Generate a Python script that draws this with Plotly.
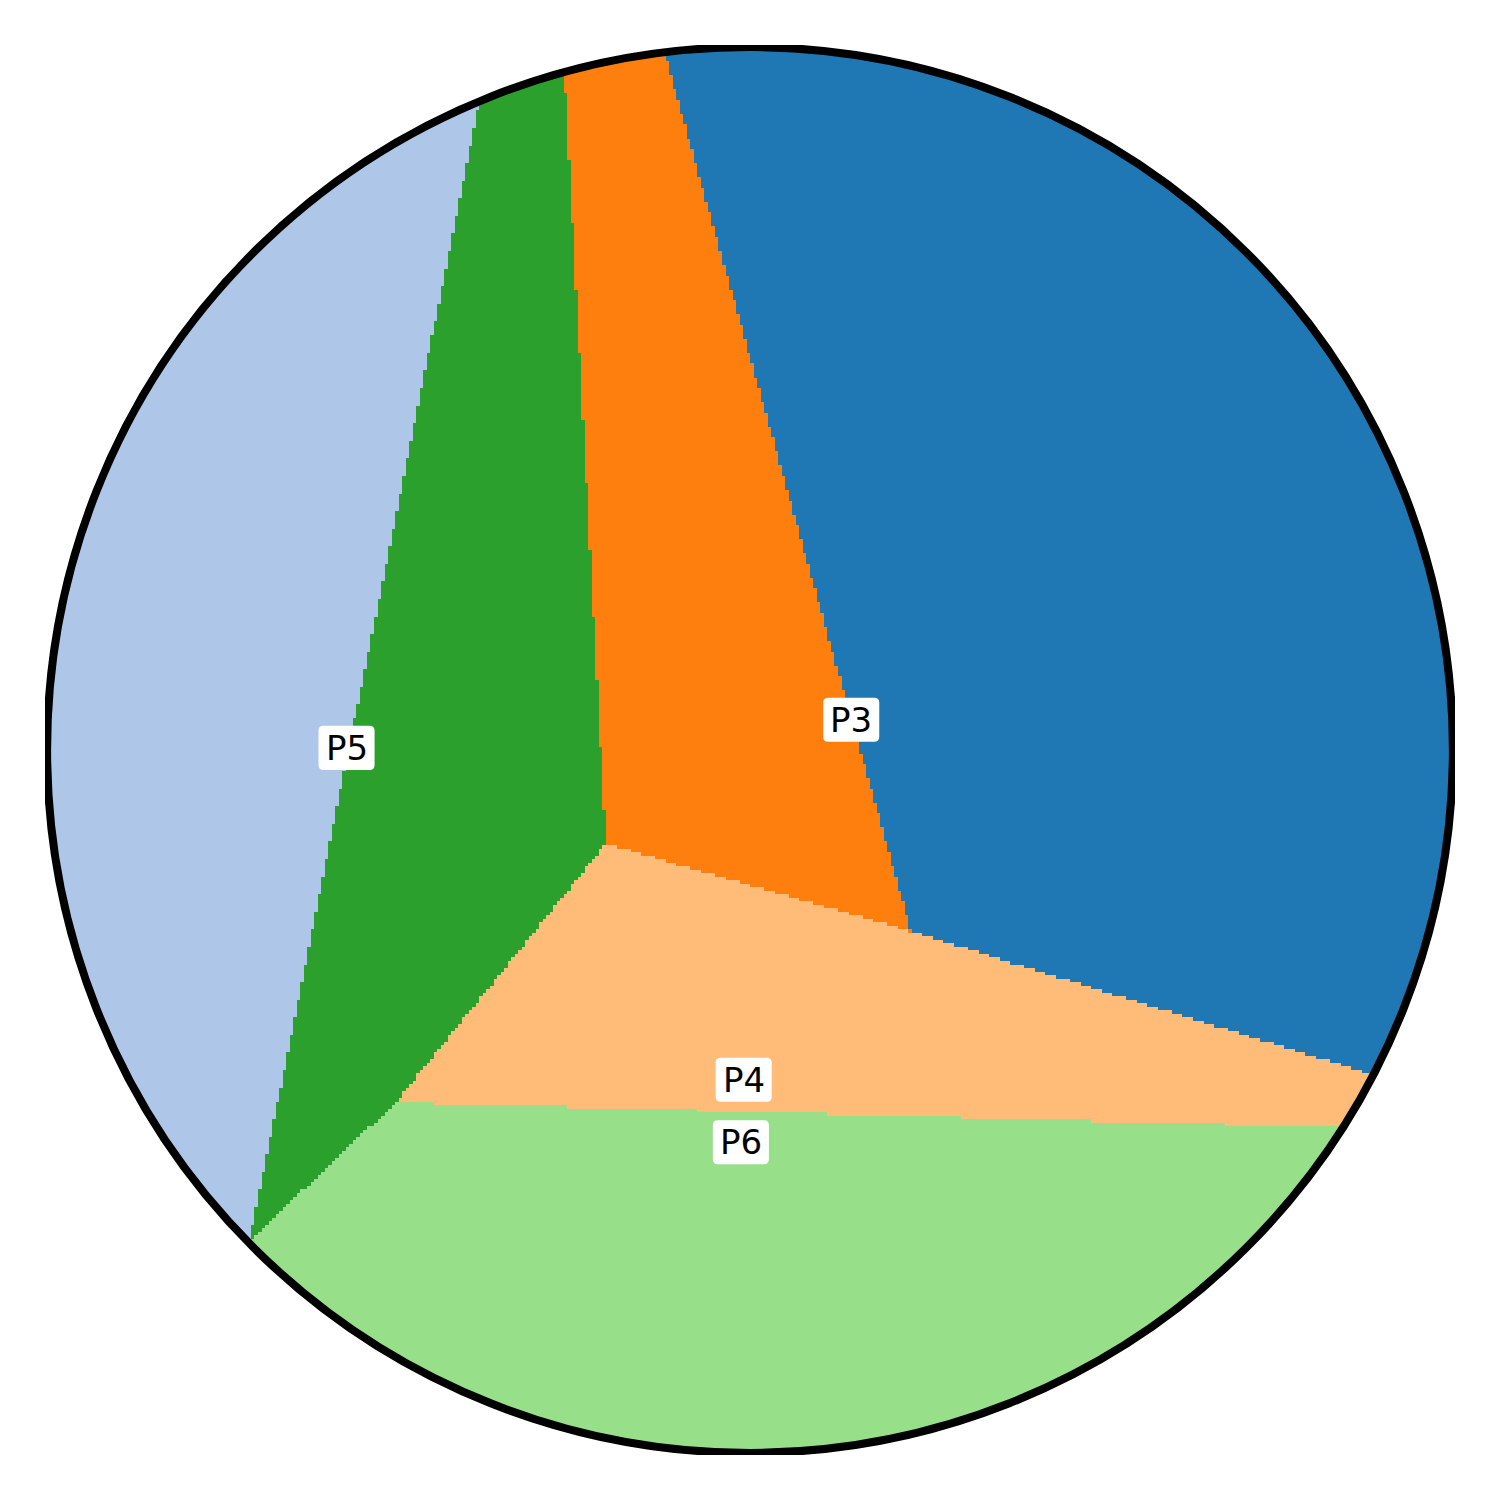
import numpy as np
import plotly.graph_objects as go

# ---- data -------------------------------------------------------------
# region names and colours (tab20 palette)
region_names = ["P1", "P5", "P3", "P4", "P2", "P6"]
region_colors = ["#1f77b4", "#aec7e8", "#ff7f0e", "#ffbb78", "#2ca02c", "#98df8a"]

# key points of the partition (unit disk coordinates)
pt_names = ["A", "B", "C", "D", "T1", "T2", "T3", "E1", "E2"]
pt_x = [-0.205, 0.229, -0.504, -0.712, -0.121, -0.264, -0.385, 0.880, 0.841]
pt_y = [-0.133, -0.258, -0.501, -0.698, 0.990, 0.963, 0.922, -0.460, -0.537]

# boundary edges of each region (background region "P5" fills the rest)
edges_P1 = [("B", "T1"), ("B", "E1")]
edges_P3 = [("A", "T2"), ("A", "B"), ("B", "T1")]
edges_P2 = [("D", "T3"), ("C", "D"), ("A", "C"), ("A", "T2")]
edges_P4 = [("A", "B"), ("B", "E1"), ("C", "E2"), ("A", "C")]
edges_P6 = [("C", "D"), ("C", "E2")]

# text labels
label_text = ["P3", "P5", "P4", "P6"]
label_x = [0.144, -0.574, -0.009, -0.013]
label_y = [0.043, 0.003, -0.469, -0.558]

# ---- build grid ------------------------------------------------------
P = {n: np.array([x, y]) for n, x, y in zip(pt_names, pt_x, pt_y)}
N = 400
h = 2.0 / N
xc = np.linspace(-1 + h / 2, 1 - h / 2, N)
yc = np.linspace(-1 + h / 2, 1 - h / 2, N)
X, Y = np.meshgrid(xc, yc)

z = np.full(X.shape, float(region_names.index("P5")))
for name, edges in [("P1", edges_P1), ("P3", edges_P3), ("P2", edges_P2),
                    ("P4", edges_P4), ("P6", edges_P6)]:
    used = sorted({p for e in edges for p in e})
    seed = np.mean([P[u] for u in used], axis=0)
    m = np.ones(X.shape, bool)
    for a, b in edges:
        pa, pb = P[a], P[b]
        d = pb - pa
        s_seed = d[0] * (seed[1] - pa[1]) - d[1] * (seed[0] - pa[0])
        s = d[0] * (Y - pa[1]) - d[1] * (X - pa[0])
        m &= s * np.sign(s_seed) >= 0
    z[m] = region_names.index(name)
z[X ** 2 + Y ** 2 > 1.0] = np.nan

n = len(region_colors)
cs = []
for i, c in enumerate(region_colors):
    cs.append([i / n, c])
    cs.append([(i + 1) / n, c])

fig = go.Figure(go.Heatmap(
    x=xc, y=yc, z=z, colorscale=cs, zmin=-0.5, zmax=n - 0.5,
    zsmooth=False, showscale=False, hoverinfo="skip"))

# white mask outside the disk
th = np.linspace(0, 2 * np.pi, 361)
circ = " ".join(("M" if i == 0 else "L") + f"{np.cos(t):.5f},{np.sin(t):.5f}"
                for i, t in enumerate(th)) + " Z"
mask_path = "M-2,-2 L2,-2 L2,2 L-2,2 Z " + circ
fig.add_shape(type="path", path=mask_path, xref="x", yref="y",
              fillcolor="white", line=dict(width=0), fillrule="evenodd")
fig.add_shape(type="circle", x0=-1, y0=-1, x1=1, y1=1, xref="x", yref="y",
              line=dict(color="black", width=8))

# rounded white boxes behind labels
px_unit = 1.0 / 702.0
bw, bh, rr = 56 * px_unit / 2, 44 * px_unit / 2, 5 * px_unit
for x, y in zip(label_x, label_y):
    x0, x1, y0, y1 = x - bw, x + bw, y - bh, y + bh
    path = (f"M{x0 + rr},{y0} L{x1 - rr},{y0} Q{x1},{y0} {x1},{y0 + rr} "
            f"L{x1},{y1 - rr} Q{x1},{y1} {x1 - rr},{y1} "
            f"L{x0 + rr},{y1} Q{x0},{y1} {x0},{y1 - rr} "
            f"L{x0},{y0 + rr} Q{x0},{y0} {x0 + rr},{y0} Z")
    fig.add_shape(type="path", path=path, xref="x", yref="y",
                  fillcolor="white", line=dict(width=0))

for t, x, y in zip(label_text, label_x, label_y):
    fig.add_annotation(x=x, y=y, text=t, showarrow=False,
                       font=dict(family="DejaVu Sans", size=34, color="black"))

R = 1.003
fig.update_xaxes(range=[-R, R], visible=False, showgrid=False, zeroline=False)
fig.update_yaxes(range=[-R, R], visible=False, showgrid=False, zeroline=False)
fig.update_layout(width=1500, height=1500,
                  margin=dict(l=45, r=45, t=45, b=45),
                  paper_bgcolor="white", plot_bgcolor="white",
                  showlegend=False)
fig.write_html("out.html")
